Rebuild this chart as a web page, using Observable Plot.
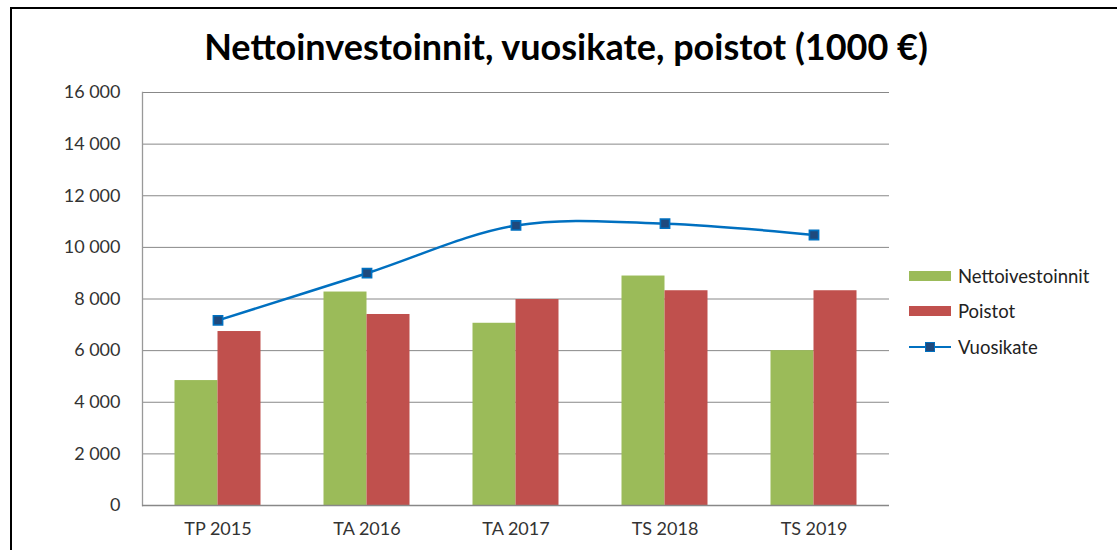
<!DOCTYPE html>
<html>
<head>
<meta charset="utf-8">
<script src="https://cdn.jsdelivr.net/npm/d3@7"></script>
<script src="https://cdn.jsdelivr.net/npm/@observablehq/plot@0.6"></script>
<style>
  html, body { margin: 0; padding: 0; background: #fff; }
  #wrap { position: relative; width: 1117px; height: 550px; overflow: hidden; font-family: Lato, "Open Sans", sans-serif; }
  #border { position: absolute; left: 10px; top: 7px; width: 1200px; height: 600px; border-top: 2px solid #000; border-left: 2px solid #000; }
  #title { position: absolute; left: 0; width: 1132px; top: 24px; text-align: center; font-size: 36px; font-weight: bold; color: #000; }
  #chart { position: absolute; left: 0; top: 0; }
  #legend { position: absolute; left: 909px; top: 258px; font-size: 18.5px; color: #222; }
  .row { display: flex; align-items: center; height: 35.5px; }
  .sw { width: 42px; height: 10px; margin-right: 7px; }
  .ln { position: relative; width: 42px; height: 10px; margin-right: 7px; }
  .ln .l { position: absolute; left: 0; right: 0; top: 4px; height: 2.5px; background: #0070C0; }
  .ln .m { position: absolute; left: 16px; top: 0px; width: 8px; height: 8px; background: #1F497D; border: 1.4px solid #0070C0; }
</style>
</head>
<body>
<div id="wrap">
  <div id="border"></div>
  <div id="chart"></div>
  <div id="title">Nettoinvestoinnit, vuosikate, poistot (1000 €)</div>
  <div id="legend">
    <div class="row"><div class="sw" style="background:#9BBB59"></div>Nettoivestoinnit</div>
    <div class="row"><div class="sw" style="background:#C0504D"></div>Poistot</div>
    <div class="row"><div class="ln"><div class="l"></div><div class="m"></div></div>Vuosikate</div>
  </div>
</div>
<script>
const categories = ["TP 2015", "TA 2016", "TA 2017", "TS 2018", "TS 2019"];
const nettoinvestoinnit = [4840, 8270, 7060, 8890, 6000];
const poistot = [6740, 7400, 7980, 8320, 8320];
const vuosikate = [7170, 9000, 10850, 10920, 10480];
const yTicks = [0, 2000, 4000, 6000, 8000, 10000, 12000, 14000, 16000];

const rows = categories.map((c, i) => ({
  cat: c, netto: nettoinvestoinnit[i], poistot: poistot[i], vuosikate: vuosikate[i]
}));

const fmt = d3.formatLocale({decimal: ",", thousands: " ", grouping: [3], currency: ["", ""]}).format(",");

const W = 1117, H = 550;
const chart = Plot.plot({
  width: W,
  height: H,
  marginLeft: 142,
  marginRight: 228,
  marginTop: 92,
  marginBottom: 45,
  style: {fontFamily: "Lato, 'Open Sans', sans-serif", fontSize: "18px", color: "#333", background: "transparent"},
  x: {domain: categories, paddingInner: 0.711, paddingOuter: 0.3555, label: null},
  y: {domain: [0, 16000], label: null},
  marks: [
    Plot.gridY(yTicks, {stroke: "#888", strokeOpacity: 1, strokeWidth: 1}),
    Plot.frame({anchor: "left", stroke: "#999", strokeWidth: 1.3}),
    Plot.barY(rows, {x: "cat", y: "netto", fill: "#9BBB59", dx: -21.5}),
    Plot.barY(rows, {x: "cat", y: "poistot", fill: "#C0504D", dx: 21.5}),
    Plot.ruleY([0], {stroke: "#888", strokeWidth: 1.3}),
    Plot.line(rows, {x: "cat", y: "vuosikate", stroke: "#0070C0", strokeWidth: 2.5, curve: "catmull-rom"}),
    Plot.dot(rows, {x: "cat", y: "vuosikate", symbol: "square", r: 5.2, fill: "#1F497D", stroke: "#0070C0", strokeWidth: 1.6}),
    Plot.axisY(yTicks, {tickSize: 0, tickPadding: 22, tickFormat: fmt, fontSize: 18, fill: "#333", label: null}),
    Plot.axisX({tickSize: 0, tickPadding: 17, fontSize: 18, fill: "#333", label: null})
  ]
});
document.getElementById("chart").appendChild(chart);
</script>
</body>
</html>
